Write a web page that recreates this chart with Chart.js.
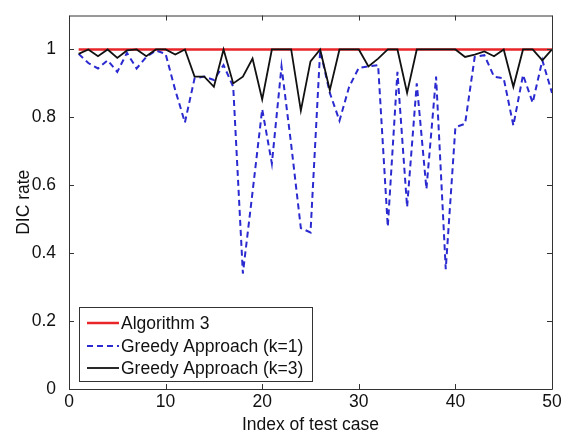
<!DOCTYPE html>
<html>
<head>
<meta charset="utf-8">
<script src="https://cdn.jsdelivr.net/npm/chart.js@4/dist/chart.umd.min.js"></script>
<style>
  html, body { margin: 0; padding: 0; background: #fff; }
  #wrap { width: 568px; height: 432px; }
</style>
</head>
<body>
<div id="wrap"><canvas id="dic-chart" width="568" height="432"></canvas></div>
<script>
// Test case indices and DIC rates
const testCases = [1, 2, 3, 4, 5, 6, 7, 8, 9, 10,
  11, 12, 13, 14, 15, 16, 17, 18, 19, 20,
  21, 22, 23, 24, 25, 26, 27, 28, 29, 30,
  31, 32, 33, 34, 35, 36, 37, 38, 39, 40,
  41, 42, 43, 44, 45, 46, 47, 48, 49, 50];

const algorithm3 = [1, 1, 1, 1, 1, 1, 1, 1, 1, 1,
  1, 1, 1, 1, 1, 1, 1, 1, 1, 1,
  1, 1, 1, 1, 1, 1, 1, 1, 1, 1,
  1, 1, 1, 1, 1, 1, 1, 1, 1, 1,
  1, 1, 1, 1, 1, 1, 1, 1, 1, 1];

const greedyK1 = [0.987, 0.96, 0.944, 0.968, 0.934, 0.99, 0.944, 0.978, 0.997, 0.987,
  0.88, 0.785, 0.915, 0.92, 0.91, 0.954, 0.89, 0.34, 0.58, 0.824,
  0.664, 0.95, 0.72, 0.474, 0.461, 0.997, 0.872, 0.79, 0.89, 0.946,
  0.95, 0.954, 0.478, 0.934, 0.536, 0.90, 0.589, 0.92, 0.353, 0.771,
  0.781, 0.978, 0.983, 0.92, 0.915, 0.776, 0.925, 0.843, 0.968, 0.872];

const greedyK3 = [0.987, 1, 0.98, 1, 0.975, 0.997, 1, 0.98, 1, 1,
  0.985, 1, 0.92, 0.92, 0.89, 1, 0.90, 0.92, 0.973, 0.853,
  1, 1, 1, 0.82, 0.965, 1, 0.88, 1, 1, 1,
  0.95, 0.973, 1, 1, 0.872, 1, 1, 1, 1, 1,
  0.978, 0.985, 0.994, 0.98, 1, 0.89, 1, 1, 0.968, 1];

const xTicks = [0, 10, 20, 30, 40, 50];
const yTicks = [0, 0.2, 0.4, 0.6, 0.8, 1];

const FONT = 'Liberation Sans, Arial, Helvetica, sans-serif';

function toPoints(values) {
  return testCases.map((x, i) => ({ x: x, y: values[i] }));
}

// MATLAB-style box with inward tick marks on all four sides
const boxPlugin = {
  id: 'matlabBox',
  afterDatasetsDraw(chart) {
    const { ctx, chartArea: a, scales } = chart;
    const len = 5;
    ctx.save();
    ctx.strokeStyle = '#333';
    ctx.lineWidth = 1;
    ctx.beginPath();
    ctx.rect(a.left + 0.5, a.top + 0.5, a.right - a.left, a.bottom - a.top);
    xTicks.forEach(v => {
      const px = Math.round(scales.x.getPixelForValue(v)) + 0.5;
      ctx.moveTo(px, a.bottom); ctx.lineTo(px, a.bottom - len);
      ctx.moveTo(px, a.top); ctx.lineTo(px, a.top + len);
    });
    yTicks.forEach(v => {
      const py = Math.round(scales.y.getPixelForValue(v)) + 0.5;
      ctx.moveTo(a.left, py); ctx.lineTo(a.left + len, py);
      ctx.moveTo(a.right, py); ctx.lineTo(a.right - len, py);
    });
    ctx.stroke();
    ctx.restore();
  }
};

// Legend box drawn inside the plot, lower left
const insideLegend = {
  id: 'insideLegend',
  afterDraw(chart) {
    const { ctx } = chart;
    const box = { left: 79, top: 307, right: 312, bottom: 381 };
    const rows = [323, 346, 368];
    ctx.save();
    ctx.fillStyle = '#fff';
    ctx.fillRect(box.left, box.top, box.right - box.left, box.bottom - box.top);
    ctx.strokeStyle = '#333';
    ctx.lineWidth = 1;
    ctx.strokeRect(box.left + 0.5, box.top + 0.5, box.right - box.left, box.bottom - box.top);

    chart.data.datasets.forEach((ds, i) => {
      const y = rows[i];
      ctx.beginPath();
      ctx.strokeStyle = ds.borderColor;
      ctx.lineWidth = ds.borderWidth;
      ctx.setLineDash(ds.borderDash || []);
      ctx.moveTo(87, y);
      ctx.lineTo(119, y);
      ctx.stroke();
      ctx.setLineDash([]);
      ctx.fillStyle = '#111';
      ctx.font = '17.5px ' + FONT;
      ctx.textBaseline = 'middle';
      ctx.fillText(ds.label, 121, y + 1);
    });
    ctx.restore();
  }
};

const ctx = document.getElementById('dic-chart').getContext('2d');
new Chart(ctx, {
  type: 'line',
  data: {
    datasets: [
      {
        label: 'Algorithm 3',
        data: toPoints(algorithm3),
        borderColor: '#e8262a',
        borderWidth: 2.5,
        pointRadius: 0,
        tension: 0,
        order: 2
      },
      {
        label: 'Greedy Approach (k=1)',
        data: toPoints(greedyK1),
        borderColor: '#2a2ad0',
        borderWidth: 2,
        borderDash: [6, 4],
        pointRadius: 0,
        tension: 0,
        order: 1
      },
      {
        label: 'Greedy Approach (k=3)',
        data: toPoints(greedyK3),
        borderColor: '#111',
        borderWidth: 1.8,
        pointRadius: 0,
        tension: 0,
        order: 0
      }
    ]
  },
  options: {
    responsive: false,
    animation: false,
    devicePixelRatio: 1,
    layout: { padding: { left: 0, top: 7, right: 16, bottom: 0 } },
    plugins: {
      legend: { display: false },
      tooltip: { enabled: false }
    },
    scales: {
      x: {
        type: 'linear',
        min: 0,
        max: 50,
        grid: { display: false },
        border: { display: false },
        afterFit: scale => { scale.height = 43; },
        afterBuildTicks: scale => { scale.ticks = xTicks.map(v => ({ value: v })); },
        ticks: {
          color: '#111',
          font: { family: FONT, size: 17.5 },
          padding: -5,
          maxRotation: 0,
          callback: v => String(v)
        },
        title: {
          display: true,
          text: 'Index of test case',
          color: '#111',
          font: { family: FONT, size: 17.5 },
          padding: { top: 0, bottom: -4 }
        }
      },
      y: {
        min: 0,
        max: 1.1,
        grid: { display: false },
        border: { display: false },
        afterFit: scale => { scale.width = 69; },
        afterBuildTicks: scale => { scale.ticks = yTicks.map(v => ({ value: v })); },
        ticks: {
          color: '#111',
          font: { family: FONT, size: 17.5 },
          padding: 5,
          callback: v => String(+v.toFixed(1))
        },
        title: {
          display: true,
          text: 'DIC rate',
          color: '#111',
          font: { family: FONT, size: 17.5 },
          padding: { top: 14, bottom: 0 }
        }
      }
    }
  },
  plugins: [boxPlugin, insideLegend]
});
</script>
</body>
</html>
